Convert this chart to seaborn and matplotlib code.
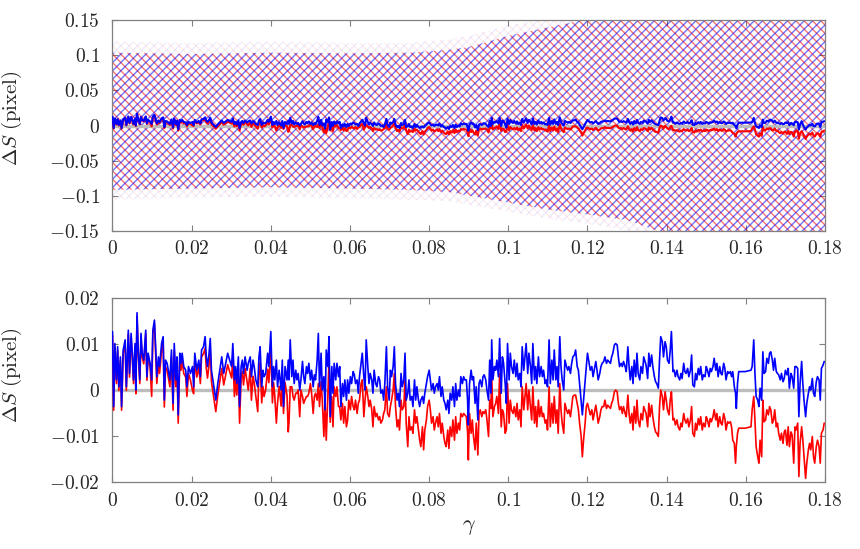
import numpy as np
import matplotlib
matplotlib.use('Agg')
import matplotlib.pyplot as plt
import seaborn as sns
from matplotlib.ticker import FuncFormatter, MultipleLocator

# gamma in units of 1e-3, shift values in units of 1e-3 pixel
gamma_1 = [0.0, 0.3, 0.6, 1.0, 1.3, 1.6, 2.0, 2.3, 2.7, 3.2,
           3.5, 4.0, 4.3, 4.7, 5.0, 5.3, 5.7, 5.9, 6.2, 6.5,
           6.9, 7.2, 7.5, 7.9, 8.4, 8.7, 9.0, 9.5, 9.9, 10.2,
           10.6, 10.9, 11.2, 11.6, 11.9, 12.4, 12.8, 13.1, 13.4, 13.8,
           14.1, 14.5, 14.9, 15.3, 15.6, 16.0, 16.3, 16.6, 17.0, 17.3,
           17.6, 18.0, 18.5, 18.8, 19.2, 19.7, 20.2, 20.5, 20.8, 21.3,
           21.8, 22.2, 22.5, 23.0, 23.4, 23.7, 24.0, 24.4, 24.7, 25.0,
           25.6, 26.1, 26.6, 27.1, 27.6, 28.1, 28.6, 29.1, 29.6, 30.1,
           30.4, 30.8, 31.1, 31.4, 31.8, 32.1, 32.5, 32.8, 33.1, 33.5,
           34.0, 34.3, 34.8, 35.1, 35.5, 35.8, 36.2, 36.7, 37.0, 37.3,
           37.7, 38.0, 38.3, 38.7, 39.2, 39.5, 40.0, 40.4, 40.7, 41.0,
           41.4, 41.7, 42.1, 42.6, 42.9, 43.2, 43.6, 44.1, 44.4]
blue_1 = [12.7, -3.6, 10.1, 2.2, 9.4, 0.7, 7.2, -3.6, 8.7, 10.9,
          0.7, 13.0, 3.6, 12.3, 8.0, 2.2, 10.1, 0.0, 16.8, 8.7,
          2.2, 12.3, 8.0, 6.5, 13.0, 2.9, 8.0, 5.8, 2.2, 13.0,
          15.2, 9.4, 2.9, 7.2, 5.1, 10.1, 11.6, -2.2, 6.5, 5.8,
          4.3, 2.2, 8.7, -2.9, 10.1, 2.2, 7.2, -5.4, 8.0, 5.8,
          8.0, 5.1, 4.3, 0.7, 5.1, 3.6, 5.1, 0.7, 8.0, 4.3,
          6.5, 2.9, 8.7, 9.4, 11.6, 7.2, 5.1, 8.0, 11.2, 4.3,
          0.7, -2.2, 1.4, 4.3, 7.2, 3.6, 5.8, 8.0, 6.5, 5.1,
          10.1, 2.2, 5.1, 1.4, 7.2, -3.6, 5.1, 6.5, 3.6, 7.2,
          4.3, 5.8, 7.2, 2.9, 6.5, 5.1, 2.2, 0.7, 7.2, 9.4,
          0.7, 4.3, 2.9, 3.6, 8.0, 5.1, 12.7, 0.7, 5.1, 2.2,
          6.5, 0.7, 4.3, 0.0, 6.5, -3.6, 5.1, 2.2, 6.5]
red_1 = [11.9, -4.4, 9.3, 1.4, 8.6, -0.1, 6.4, -4.4, 7.9, 10.1,
         -0.1, 12.2, 2.8, 11.5, 7.2, 1.4, 9.3, -0.8, 16.0, 7.9,
         1.4, 11.5, 7.2, 5.7, 12.2, 2.1, 7.2, 5.0, -1.4, 12.2,
         14.4, 8.0, 1.4, 5.7, 3.6, 8.6, 10.1, -3.7, 5.0, 4.3,
         2.8, 0.7, 7.2, -4.4, 8.6, 0.7, 5.7, -7.2, 6.5, 4.3,
         6.5, 3.6, 2.8, -1.4, 3.6, 2.1, 0.0, -0.8, 6.5, 2.8,
         5.0, 1.4, 7.2, 7.9, 9.1, 4.7, 2.6, 5.5, 8.7, 1.8,
         -1.8, -4.7, -1.1, 1.8, 4.7, 1.1, 3.3, 5.5, 4.0, 2.6,
         7.6, -1.4, 2.6, -1.1, 4.7, -7.2, 2.6, 4.0, 1.1, 4.7,
         1.8, 0.0, 4.7, -2.2, 3.0, 1.6, -1.3, -4.7, 3.7, 5.9,
         -2.8, 0.8, -1.4, 0.1, 4.5, 1.6, 9.2, -2.8, 1.6, -1.3,
         -7.2, -2.8, 0.8, -3.5, 3.0, -5.1, 1.6, -1.3, -9.1]

gamma_2 = [44.6, 44.9, 45.3, 45.6, 45.9, 46.3, 46.6, 46.9, 47.3, 47.6,
           48.0, 48.3, 48.6, 49.0, 49.3, 49.6, 50.0, 50.3, 50.7, 51.0,
           51.3, 51.7, 52.0, 52.3, 52.7, 53.0, 53.4, 53.7, 54.0, 54.4,
           54.7, 55.0, 55.4, 55.7, 56.0, 56.4, 56.7, 57.1, 57.4, 57.7,
           58.1, 58.4, 58.7, 59.1, 59.4, 59.7, 60.1, 60.4, 60.8, 61.1,
           61.4, 61.8, 62.1, 62.4, 62.8, 63.1, 63.5, 63.8, 64.1, 64.5,
           64.8, 65.1, 65.5, 65.8, 66.1, 66.5, 66.8, 67.2, 67.5, 67.8,
           68.2, 68.5, 68.8, 69.2, 69.5, 69.9, 70.2, 70.5, 70.9, 71.2,
           71.5, 71.9, 72.2, 72.5, 72.9, 73.2, 73.6, 73.9, 74.2, 74.6,
           74.9, 75.2, 75.6, 75.9, 76.3, 76.6, 76.9, 77.3, 77.6, 77.9,
           78.3, 78.6, 78.9, 79.3, 79.6, 80.0, 80.3, 80.6, 81.0, 81.3,
           81.6, 82.0, 82.3, 82.6, 83.0, 83.3, 83.7, 84.0, 84.3, 84.7,
           85.0, 85.3, 85.7, 86.0, 86.4, 86.7, 87.0, 87.4, 87.7, 88.0,
           88.4, 88.7, 89.0]
blue_2 = [2.2, 10.9, 2.9, 6.5, 1.4, 4.3, 2.2, 3.6, 0.0, 2.2,
          6.2, 2.9, 1.4, 5.1, 3.6, 5.8, 2.2, 4.3, 0.7, 3.3,
          2.2, 6.5, 12.3, 0.7, 8.0, 0.0, 2.9, -4.3, 8.7, 5.1,
          11.6, -5.8, 5.1, -0.7, 5.8, 2.2, 5.8, 2.9, 5.1, -3.6,
          1.4, -1.4, 2.2, -2.2, 2.2, -0.7, 2.9, 1.4, 4.0, 3.3,
          1.4, 2.2, -0.7, 2.9, 5.8, 8.0, 2.9, 0.0, 10.9, 5.1,
          1.4, 3.6, 2.2, -0.7, 4.3, 1.4, 0.7, 2.9, 2.2, -0.7,
          0.0, -2.2, 1.4, 9.4, 0.7, -2.2, 4.3, 2.9, 5.1, 9.4,
          1.4, -2.2, -0.7, -3.6, 3.6, 0.7, 2.2, 8.0, -2.2, -0.7,
          2.2, -2.2, -1.4, -3.6, 2.2, -2.2, 0.7, -2.2, -3.6, -2.2,
          -1.4, -2.9, -0.7, 1.4, 2.9, 4.3, 2.2, 0.0, 1.4, -0.7,
          0.7, 1.4, 0.0, 2.9, -1.4, 0.7, -2.2, -2.9, -4.3, -2.2,
          -5.1, -0.7, -2.2, 0.7, -3.6, 1.4, -2.2, 0.0, -1.4, 2.9,
          1.4, 2.9, 2.2]
red_2 = [-7.0, 0.7, 0.7, -1.4, -2.2, -0.7, -0.7, 0.0, -5.8, 0.0,
         -1.4, -2.9, -2.2, -1.4, -1.4, -0.7, 1.4, -0.7, -5.1, -1.4,
         -0.7, -2.2, 1.4, -3.6, 1.8, -2.2, -10.1, -2.2, -10.9, -1.4,
         6.5, -7.0, -1.4, -8.0, 0.7, -1.4, 0.7, -3.6, -3.6, -6.5,
         -2.9, -7.2, -3.6, -8.0, -6.5, -2.2, -4.3, -1.4, -3.6, -4.3,
         -2.2, -5.1, -2.9, -2.2, 1.4, 2.2, -5.8, -2.2, 0.7, -1.4,
         -3.6, -2.2, -4.3, -8.0, -3.6, -5.8, -5.1, -6.5, -5.8, -7.2,
         -6.5, -5.1, -4.3, 0.7, -5.1, -5.8, -3.6, -2.2, 0.0, 3.6,
         -3.6, -8.0, -6.5, -8.7, -2.2, -4.3, -3.6, 2.2, -7.2, -12.3,
         -5.8, -8.7, -8.0, -9.4, -4.3, -7.2, -5.8, -8.7, -10.9, -12.3,
         -8.0, -13.0, -8.7, -6.5, -3.6, -2.2, -4.3, -7.2, -5.8, -8.7,
         -7.2, -5.8, -8.0, -5.1, -9.4, -7.2, -10.1, -11.6, -12.3, -8.7,
         -12.7, -8.0, -10.1, -6.5, -10.9, -5.8, -9.4, -7.2, -8.7, -5.1,
         -5.8, -5.1, -5.4]

gamma_3 = [89.4, 89.7, 89.9, 90.2, 90.6, 90.9, 91.2, 91.6, 91.9, 92.3,
           92.6, 92.9, 93.3, 93.6, 93.9, 94.3, 94.6, 95.0, 95.3, 95.6,
           95.8, 96.1, 96.5, 96.8, 97.1, 97.5, 97.8, 98.2, 98.5, 98.8,
           99.2, 99.5, 99.8, 100.2, 100.5, 100.8, 101.2, 101.5, 101.9, 102.2,
           102.5, 102.9, 103.2, 103.5, 103.9, 104.2, 104.5, 104.9, 105.2, 105.6,
           105.9, 106.2, 106.6, 106.9, 107.2, 107.6, 107.9, 108.3, 108.6, 108.9,
           109.3, 109.6, 109.9, 110.3, 110.6, 111.0, 111.3, 111.6, 112.0, 112.3,
           112.6, 113.0, 113.3, 113.6, 114.0, 114.3, 114.7, 115.0, 115.3, 115.7,
           116.0, 116.3, 116.7, 117.0, 117.4, 117.7, 118.0, 118.4, 118.7, 119.0,
           119.4, 119.7, 120.0, 120.4, 120.7, 121.1, 121.4, 121.7, 122.1, 122.4,
           122.7, 123.1, 123.4, 123.7, 124.1, 124.4, 124.8, 125.1, 125.4, 125.8,
           126.1, 126.4, 126.8, 127.1, 127.5, 127.8, 128.1, 128.5, 128.8, 129.1,
           129.5, 129.8, 130.2, 130.5, 130.8, 131.2, 131.5, 131.8, 132.2, 132.5,
           132.8, 133.2, 133.5, 133.9, 134.2]
blue_3 = [2.2, -2.2, -7.6, 1.4, 4.3, 2.2, 2.9, -2.9, 0.7, -6.5,
          1.4, 2.2, 0.7, 2.9, 3.3, 2.2, 0.0, -2.2, 6.5, -0.7,
          10.9, 2.2, 5.1, 4.3, 6.5, 2.9, 11.2, -0.7, 7.2, 5.8,
          1.4, -2.9, 10.1, 2.2, 8.0, 5.1, 3.6, 6.5, 2.9, 5.8,
          2.2, 3.6, 0.7, 9.4, 4.3, 7.2, 10.1, 3.6, 8.0, 5.1,
          1.4, 10.1, 2.2, 5.1, 1.4, 7.2, 2.9, 5.1, 2.9, 4.3,
          1.4, 2.2, 0.7, 10.9, 1.4, 6.5, 2.2, 8.7, 2.2, 5.1,
          0.7, 11.6, 5.1, 2.2, 0.0, 6.5, 5.1, 4.3, 5.1, 3.6,
          5.8, 7.2, 7.6, 8.7, 5.1, 4.3, 1.4, -2.2, -5.4, -2.2,
          2.2, 5.1, 8.0, 5.8, 4.3, 5.1, 2.9, 4.3, 6.2, 4.3,
          2.2, 3.6, 5.1, 5.8, 6.2, 7.2, 5.8, 6.5, 6.2, 5.8,
          7.2, 8.0, 9.8, 10.1, 9.8, 7.2, 5.1, 5.8, 5.1, 6.2,
          5.1, 4.0, 9.4, 5.1, 2.2, 5.1, 1.4, 6.5, 2.9, 8.0,
          3.6, 2.2, 5.1, 3.6, 7.2]
red_3 = [-5.8, -9.0, -15.2, -5.1, -9.4, -6.5, -10.1, -13.0, -7.2, -14.1,
         -5.1, -4.3, -5.8, -4.7, -5.1, -4.3, -6.5, -10.1, -2.2, -4.0,
         3.3, -5.8, -3.6, -2.9, -1.4, -5.1, 3.6, -8.0, -4.3, -5.1,
         -9.4, -8.7, 1.4, -7.2, -2.2, -4.3, -5.1, -3.6, -5.8, -2.9,
         -6.5, -4.3, -8.0, 0.7, -4.3, -1.4, 1.4, -4.3, 0.0, -3.6,
         -6.5, 0.7, -7.2, -3.6, -8.0, -2.2, -5.8, -3.6, -5.8, -5.1,
         -7.2, -6.5, -8.7, 0.7, -8.0, -2.9, -7.2, -1.4, -7.2, -4.3,
         -9.4, 1.4, -4.3, -7.2, -9.4, -2.9, -4.3, -5.1, -4.3, -5.8,
         -3.6, -1.4, -1.1, -1.1, -2.9, -4.3, -7.2, -10.1, -14.5, -10.9,
         -7.2, -3.6, -2.9, -4.3, -5.4, -4.3, -6.5, -5.1, -3.3, -5.1,
         -7.2, -5.8, -4.3, -3.6, -3.6, -2.2, -4.0, -3.3, -3.6, -4.0,
         -2.9, -2.2, -0.4, 0.0, -0.4, -2.9, -4.3, -3.6, -5.1, -3.6,
         -5.1, -5.8, -1.1, -5.1, -7.2, -5.1, -8.7, -3.6, -7.2, -2.2,
         -6.5, -8.0, -5.1, -6.5, -3.6]

gamma_4 = [134.8, 135.2, 135.5, 135.8, 136.2, 136.5, 136.9, 137.2, 137.5, 137.9,
           138.2, 138.5, 138.9, 139.2, 139.6, 139.9, 140.2, 140.6, 140.9, 141.2,
           141.6, 141.9, 142.2, 142.6, 142.9, 143.3, 143.6, 143.9, 144.3, 144.6,
           144.9, 145.3, 145.6, 146.0, 146.3, 146.6, 147.0, 147.3, 147.6, 148.0,
           148.3, 148.6, 149.0, 149.3, 149.7, 150.0, 150.3, 150.7, 151.0, 151.3,
           151.7, 152.0, 152.4, 152.7, 153.0, 153.4, 153.7, 154.0, 154.4, 154.7,
           155.0, 155.4, 155.7, 156.1, 156.4, 156.7, 157.1, 157.4,
           157.6, 157.9, 158.2, 159.8, 161.3,
           161.6, 162.0, 162.3, 162.6, 163.0, 163.3, 163.6, 164.0, 164.3, 164.6,
           165.0, 165.3, 165.7, 166.0, 166.3, 166.7, 167.0, 167.3, 167.7, 168.0,
           168.3, 168.7, 169.0, 169.4, 169.7, 170.0, 170.4, 170.7, 171.0, 171.4,
           171.7, 172.1, 172.4, 172.7, 173.1, 173.4, 173.7, 174.1, 174.4, 174.7,
           175.1, 175.4, 175.8, 176.1, 176.4, 176.8, 177.1, 177.4, 177.8, 178.1,
           178.5, 178.8, 179.1, 179.5, 179.8]
blue_4 = [5.4, 2.5, 8.0, 5.1, 7.6, 5.1, 2.9, 1.8, 1.4, 0.4,
          6.5, 11.6, 10.5, 7.2, 10.5, 9.4, 6.5, 5.8, 8.7, 12.7,
          4.0, 4.3, 2.9, 4.3, 2.9, 2.2, 3.6, 2.5, 5.8, 4.0,
          3.6, 4.7, 2.9, 4.3, 7.6, 1.1, 0.7, 3.6, 2.2, 4.7,
          3.3, 5.1, 2.2, 3.3, 2.9, 5.1, 4.3, 2.9, 4.7, 4.0,
          5.1, 6.9, 4.3, 5.8, 2.9, 5.1, 3.6, 3.3, 5.8, 4.7,
          2.2, 4.0, 3.6, 4.0, 2.9, 4.0, 0.7, -0.7,
          -4.0, 1.4, 4.0, 4.0, 4.3,
          5.1, 10.9, 3.6, -1.4, -2.2, -3.6, 0.4, -2.2, 8.3, 3.6,
          4.0, 6.9, 5.8, 8.0, 8.3, 6.5, 4.3, 6.9, 4.0, 3.6,
          3.3, 2.2, 3.6, 1.8, 2.5, 4.3, 3.3, 4.7, 0.4, 3.6,
          2.9, 0.4, 5.1, 5.1, 4.7, -5.8, 1.4, 6.2, 1.4, -2.2,
          -5.8, -2.9, -0.7, 0.7, 0.0, 2.5, -0.7, -1.4, 1.8, 2.9,
          2.2, -2.2, 4.7, 5.4, 6.2]
red_4 = [-5.1, -8.0, -2.9, -5.8, -3.3, -5.8, -8.0, -9.1, -9.4, -10.1,
         -3.6, 0.0, -1.4, -4.3, -0.4, -2.2, -4.3, -5.4, -2.2, -0.4,
         -6.5, -6.2, -7.6, -6.5, -8.0, -8.7, -7.2, -8.0, -5.1, -6.5,
         -7.2, -6.2, -8.0, -6.5, -3.6, -9.4, -10.1, -7.2, -8.7, -6.2,
         -7.6, -5.8, -8.7, -7.2, -8.0, -5.8, -6.5, -8.0, -6.2, -6.9,
         -5.8, -4.3, -6.5, -5.1, -8.0, -5.8, -7.2, -7.6, -5.1, -6.2,
         -8.7, -6.9, -7.2, -6.9, -8.0, -10.9, -11.6, -15.9,
         -12.3, -9.4, -8.3, -8.3, -8.0,
         -4.3, -1.4, -6.5, -12.3, -14.5, -15.9, -10.9, -14.5, -2.2, -6.9,
         -6.5, -4.3, -5.4, -3.6, -4.3, -7.2, -6.5, -4.3, -8.0, -7.2,
         -9.4, -10.9, -9.4, -11.6, -9.1, -8.7, -12.0, -8.0, -12.3, -9.1,
         -9.8, -15.9, -8.0, -8.7, -7.2, -18.8, -11.6, -8.0, -10.9, -14.5,
         -19.2, -15.9, -13.0, -11.6, -13.0, -10.1, -14.5, -15.9, -12.3, -10.9,
         -12.3, -15.9, -9.4, -8.7, -7.2]

# outline of the cloud of single measurements in the upper panel
band_gamma = [0.0, 0.02, 0.04, 0.06, 0.075, 0.085, 0.09, 0.1, 0.11, 0.12, 0.13, 0.14, 0.18]
band_top = [0.104, 0.102, 0.104, 0.103, 0.104, 0.108, 0.112, 0.128, 0.14, 0.152, 0.16, 0.16, 0.16]
band_bot = [-0.092, -0.09, -0.088, -0.09, -0.092, -0.095, -0.1, -0.11, -0.12, -0.127, -0.135, -0.155, -0.16]
# sparse outliers around the cloud
fringe_top = [0.12, 0.118, 0.12, 0.118, 0.118, 0.123, 0.128, 0.143, 0.153, 0.165, 0.17, 0.17, 0.17]
fringe_bot = [-0.106, -0.103, -0.102, -0.104, -0.106, -0.108, -0.113, -0.123, -0.133, -0.14, -0.15, -0.17, -0.17]

gamma = np.concatenate([gamma_1, gamma_2, gamma_3, gamma_4]) / 1000
ds_blue = np.concatenate([blue_1, blue_2, blue_3, blue_4]) / 1000
ds_red = np.concatenate([red_1, red_2, red_3, red_4]) / 1000

sns.set_style('ticks')
plt.rcParams['mathtext.fontset'] = 'cm'
plt.rcParams['font.family'] = ['DejaVu Serif']
plt.rcParams['hatch.linewidth'] = 1.0

fig = plt.figure(figsize=(8.6, 5.49), dpi=100)
ax1 = fig.add_axes([0.1308, 0.5801, 0.8285, 0.3826])
ax2 = fig.add_axes([0.1308, 0.1220, 0.8285, 0.3352])

fmt = FuncFormatter(lambda v, pos: r'$%g$' % round(v, 4))

# cloud of points: red and blue hatching, faint fringe of outliers
for lo, hi, a in [(fringe_bot, fringe_top, 0.07), (band_bot, band_top, 0.5)]:
    ax1.fill_between(band_gamma, lo, hi, facecolor='none',
                     edgecolor=(1, 0, 0, a), hatch='\\\\\\\\', linewidth=0, zorder=1)
    ax1.fill_between(band_gamma, lo, hi, facecolor='none',
                     edgecolor=(0, 0, 1, a), hatch='////', linewidth=0, zorder=1)

for ax, lw in [(ax1, 1.5), (ax2, 1.2)]:
    ax.axhline(0, color='#bdbdbd', lw=2.4, zorder=2)
    sns.lineplot(x=gamma, y=ds_red, color='red', lw=lw, ax=ax, estimator=None, zorder=3)
    sns.lineplot(x=gamma, y=ds_blue, color='blue', lw=lw, ax=ax, estimator=None, zorder=4)
    ax.set_xlim(0, 0.18)
    ax.xaxis.set_major_locator(MultipleLocator(0.02))
    ax.xaxis.set_major_formatter(fmt)
    ax.yaxis.set_major_formatter(fmt)
    ax.tick_params(direction='in', top=True, right=True, length=4,
                   color='#808080', labelsize=14)
    ax.tick_params(axis='x', pad=7)
    ax.tick_params(axis='y', pad=9)
    for s in ax.spines.values():
        s.set_color('#808080')
        s.set_linewidth(0.9)
    ax.set_ylabel(r'$\Delta S\ \mathrm{(pixel)}$', fontsize=15)

ax1.set_ylim(-0.15, 0.15)
ax1.yaxis.set_major_locator(MultipleLocator(0.05))
ax1.yaxis.set_label_coords(-0.124, 0.536)

ax2.set_ylim(-0.02, 0.02)
ax2.yaxis.set_major_locator(MultipleLocator(0.01))
ax2.yaxis.set_label_coords(-0.124, 0.58)
ax2.set_xlabel(r'$\gamma$', fontsize=16)

fig.savefig('out.png', dpi=100)
